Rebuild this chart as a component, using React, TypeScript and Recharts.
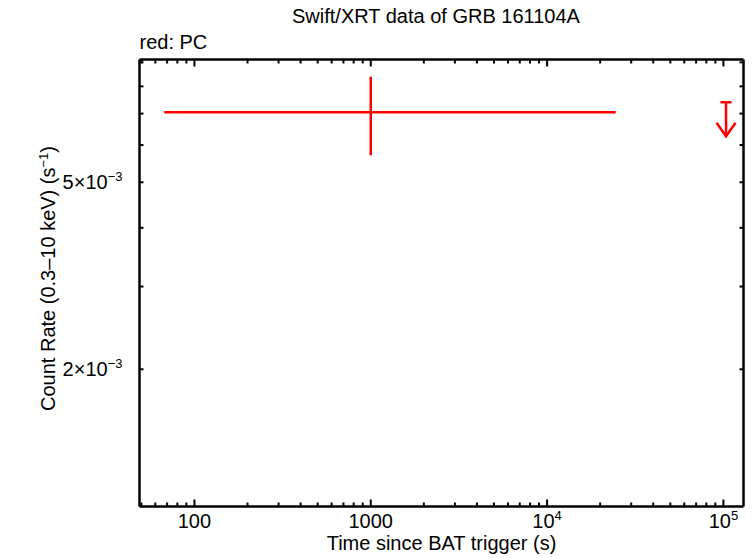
import React from 'react';
import { ComposedChart, Scatter, ErrorBar, XAxis, YAxis, Label } from 'recharts';

// PC mode detection (time bin + count rate, with bounds)
const pcTime = [1000];
const pcTimeLow = [67.4];
const pcTimeHigh = [24500];
const pcRate = [7.05e-3];
const pcRateLow = [5.71e-3];
const pcRateHigh = [8.39e-3];

// PC mode upper limit
const ulTime = [1.035e5];
const ulRate = [7.4e-3];

const xDomain = [48.8, 130000];
const yDomain = [1.021e-3, 9.125e-3];

const xMajorTicks = [100, 1000, 10000, 100000];
const xMajorLabels = [['100', ''], ['1000', ''], ['10', '4'], ['10', '5']];
const xMinorTicks = [
  50, 60, 70, 80, 90,
  200, 300, 400, 500, 600, 700, 800, 900,
  2000, 3000, 4000, 5000, 6000, 7000, 8000, 9000,
  20000, 30000, 40000, 50000, 60000, 70000, 80000, 90000,
];
const xTicks = [...xMinorTicks, ...xMajorTicks].sort((a, b) => a - b);

const yTicks = [2e-3, 3e-3, 4e-3, 5e-3, 6e-3, 7e-3, 8e-3, 9e-3];
const yLabelTicks = [2e-3, 5e-3];
const yLabels = ['2', '5'];

const pcData = pcTime.map((t, i) => ({
  t,
  rate: pcRate[i],
  xErr: [t - pcTimeLow[i], pcTimeHigh[i] - t],
  yErr: [pcRate[i] - pcRateLow[i], pcRateHigh[i] - pcRate[i]],
}));

const ulData = ulTime.map((t, i) => ({ t, rate: ulRate[i] }));

const RED = '#ff0000';
const FONT = '"Liberation Sans", Arial, Helvetica, sans-serif';
const FS = 20;
const SUP = 13;

const BottomTick = (props: any) => {
  const { x, y, payload } = props;
  const i = xMajorTicks.indexOf(payload.value);
  const major = i >= 0;
  return (
    <g>
      <line x1={x} x2={x} y1={y} y2={y - (major ? 7 : 4)} stroke="#000" strokeWidth={2} />
      {major && (
        <text x={x} y={y + 21} textAnchor="middle" fontFamily={FONT} fontSize={FS} fill="#000">
          {xMajorLabels[i][0]}
          {xMajorLabels[i][1] && (
            <tspan dy={-7.5} fontSize={SUP}>
              {xMajorLabels[i][1]}
            </tspan>
          )}
        </text>
      )}
    </g>
  );
};

const TopTick = (props: any) => {
  const { x, y, payload } = props;
  const major = xMajorTicks.includes(payload.value);
  return <line x1={x} x2={x} y1={y} y2={y + (major ? 7 : 4)} stroke="#000" strokeWidth={2} />;
};

const LeftTick = (props: any) => {
  const { x, y, payload } = props;
  const i = yLabelTicks.indexOf(payload.value);
  return (
    <g>
      <line x1={x} x2={x + 4} y1={y} y2={y} stroke="#000" strokeWidth={2} />
      {i >= 0 && (
        <text x={x - 17} y={y + 6.5} textAnchor="end" fontFamily={FONT} fontSize={FS} fill="#000">
          {yLabels[i]}×10
          <tspan dy={-7.5} fontSize={SUP}>
            −3
          </tspan>
        </text>
      )}
    </g>
  );
};

const RightTick = (props: any) => {
  const { x, y } = props;
  return <line x1={x} x2={x - 4} y1={y} y2={y} stroke="#000" strokeWidth={2} />;
};

const UpperLimit = (props: any) => {
  const { cx, cy } = props;
  return (
    <g stroke={RED} strokeWidth={2.5} fill="none">
      <line x1={cx - 5.5} x2={cx + 5.5} y1={cy} y2={cy} />
      <line x1={cx} x2={cx} y1={cy} y2={cy + 34} />
      <polyline points={`${cx - 9.5},${cy + 20.5} ${cx},${cy + 34} ${cx + 9.5},${cy + 20.5}`} />
    </g>
  );
};

const TitleLabel = (props: any) => {
  const { viewBox } = props;
  const { x, y, height } = viewBox;
  return (
    <g fontFamily={FONT} fontSize={FS} fill="#000">
      <text x={436} y={y + 23} textAnchor="middle">
        Swift/XRT data of GRB 161104A
      </text>
      <text x={x} y={y + height - 10.5}>red: PC</text>
    </g>
  );
};

const XTitle = (props: any) => {
  const { viewBox } = props;
  const { x, y, width } = viewBox;
  return (
    <text x={x + width / 2} y={y + 43.5} textAnchor="middle" fontFamily={FONT} fontSize={FS} fill="#000">
      Time since BAT trigger (s)
    </text>
  );
};

const YTitle = (props: any) => {
  const { viewBox } = props;
  const { y, height } = viewBox;
  const cx = 55;
  const cy = y + height / 2 - 4.5;
  return (
    <text
      x={cx}
      y={cy}
      transform={`rotate(-90, ${cx}, ${cy})`}
      textAnchor="middle"
      fontFamily={FONT}
      fontSize={FS}
      fill="#000"
    >
      Count Rate (0.3–10 keV) (s
      <tspan dy={-7.5} fontSize={SUP}>
        −1
      </tspan>
      <tspan dy={7.5}>)</tspan>
    </text>
  );
};

const axisLine = { stroke: '#000', strokeWidth: 2.5 };

export default function App() {
  return (
    <div style={{ width: 752, height: 558, background: '#fff' }}>
      <style>{'body{margin:0;background:#fff}'}</style>
      <ComposedChart width={752} height={558} margin={{ top: 0, right: 0, bottom: 0, left: 0 }}>
        <XAxis
          xAxisId="bottom"
          dataKey="t"
          type="number"
          scale="log"
          domain={xDomain}
          allowDataOverflow
          ticks={xTicks}
          interval={0}
          tick={<BottomTick />}
          tickLine={false}
          tickSize={0}
          tickMargin={0}
          axisLine={axisLine}
          height={51.5}
          label={<Label content={<XTitle />} />}
        />
        <XAxis
          xAxisId="top"
          orientation="top"
          dataKey="t"
          type="number"
          scale="log"
          domain={xDomain}
          allowDataOverflow
          ticks={xTicks}
          interval={0}
          tick={<TopTick />}
          tickLine={false}
          tickSize={0}
          tickMargin={0}
          axisLine={axisLine}
          height={59.5}
          label={<Label content={<TitleLabel />} />}
        />
        <YAxis
          yAxisId="left"
          dataKey="rate"
          type="number"
          scale="log"
          domain={yDomain}
          allowDataOverflow
          ticks={yTicks}
          interval={0}
          tick={<LeftTick />}
          tickLine={false}
          tickSize={0}
          tickMargin={0}
          axisLine={axisLine}
          width={139.5}
          label={<Label content={<YTitle />} />}
        />
        <YAxis
          yAxisId="right"
          orientation="right"
          dataKey="rate"
          type="number"
          scale="log"
          domain={yDomain}
          allowDataOverflow
          ticks={yTicks}
          interval={0}
          tick={<RightTick />}
          tickLine={false}
          tickSize={0}
          tickMargin={0}
          axisLine={axisLine}
          width={8.5}
        />
        <Scatter
          data={pcData}
          dataKey="rate"
          xAxisId="bottom"
          yAxisId="left"
          isAnimationActive={false}
          shape={() => <g />}
        >
          <ErrorBar direction="x" dataKey="xErr" width={0} stroke={RED} strokeWidth={2.5} isAnimationActive={false} />
          <ErrorBar direction="y" dataKey="yErr" width={0} stroke={RED} strokeWidth={2.5} isAnimationActive={false} />
        </Scatter>
        <Scatter
          data={ulData}
          dataKey="rate"
          xAxisId="bottom"
          yAxisId="left"
          isAnimationActive={false}
          shape={<UpperLimit />}
        />
      </ComposedChart>
    </div>
  );
}
